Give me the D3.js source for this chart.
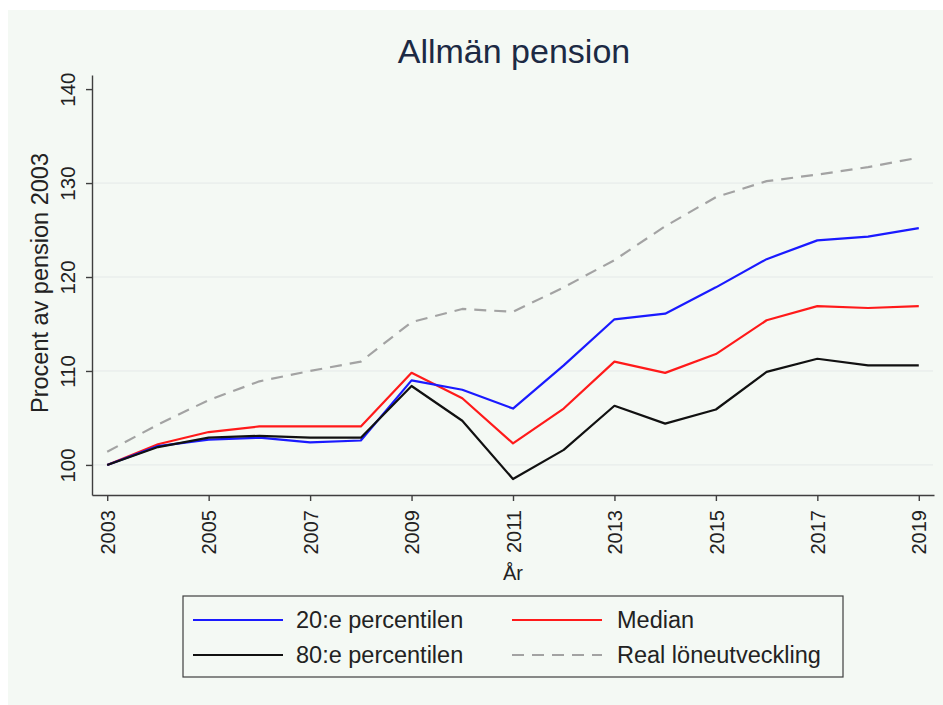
<!DOCTYPE html>
<html>
<head>
<meta charset="utf-8">
<script src="https://cdn.jsdelivr.net/npm/d3@7"></script>
<style>
  body { margin: 0; background: #fff; }
  svg { display: block; font-family: "Liberation Sans", Arial, sans-serif; }
</style>
</head>
<body>
<div class="chart"></div>
<script>
var width = 943,
    height = 705;

// data
var years = [2003, 2004, 2005, 2006, 2007, 2008, 2009, 2010, 2011,
             2012, 2013, 2014, 2015, 2016, 2017, 2018, 2019];
var p20 = [100, 102.0, 102.7, 102.9, 102.4, 102.6, 109.0, 108.0, 106.0,
           110.6, 115.5, 116.1, 118.9, 121.9, 123.9, 124.3, 125.2];
var median = [100, 102.2, 103.5, 104.1, 104.1, 104.1, 109.8, 107.1, 102.3,
              106.0, 111.0, 109.8, 111.8, 115.4, 116.9, 116.7, 116.9];
var p80 = [100, 101.9, 102.9, 103.1, 102.9, 102.9, 108.4, 104.7, 98.5,
           101.6, 106.3, 104.4, 105.9, 109.9, 111.3, 110.6, 110.6];
var wages = [101.4, 104.3, 106.9, 108.9, 110.0, 111.0, 115.2, 116.6, 116.3,
             118.9, 121.8, 125.4, 128.5, 130.2, 130.9, 131.7, 132.7];
var xTicks = [2003, 2005, 2007, 2009, 2011, 2013, 2015, 2017, 2019];
var yTicks = [100, 110, 120, 130, 140];
var gridTicks = [100, 110, 120, 130];

var series = [
    { name: "20:e percentilen", values: p20, color: "#1a1aff", dash: null },
    { name: "Median", values: median, color: "#ff1a1a", dash: null },
    { name: "80:e percentilen", values: p80, color: "#111111", dash: null },
    { name: "Real löneutveckling", values: wages, color: "#a3a3a3", dash: "12,8" }
];

var svg = d3.select(".chart").append("svg")
    .attr("width", width)
    .attr("height", height);

svg.append("rect")
    .attr("x", 8).attr("y", 10)
    .attr("width", width - 8).attr("height", height - 10)
    .attr("fill", "#f4f9f4");

var x = d3.scaleLinear()
    .domain([2002.7, 2019.3])
    .range([92, 934]);

var y = d3.scaleLinear()
    .domain([96.8, 141.5])
    .range([495, 75]);

// grid
svg.append("g").selectAll("line")
    .data(gridTicks)
    .enter().append("line")
    .attr("x1", x.range()[0]).attr("x2", x.range()[1] - 1)
    .attr("y1", function(d) { return y(d); })
    .attr("y2", function(d) { return y(d); })
    .attr("stroke", "#e4e9e8")
    .attr("stroke-width", 1);

// axes
var yAxis = svg.append("g")
    .attr("transform", "translate(" + x.range()[0] + ",0)")
    .call(d3.axisLeft(y).tickValues(yTicks).tickSizeInner(6).tickSizeOuter(0));

yAxis.selectAll("text")
    .attr("transform", "rotate(-90)")
    .attr("x", 0).attr("y", -17).attr("dy", 0)
    .style("text-anchor", "middle")
    .style("font-size", "20.5px")
    .attr("fill", "#222");

var xAxis = svg.append("g")
    .attr("transform", "translate(0," + y.range()[0] + ")")
    .call(d3.axisBottom(x).tickValues(xTicks).tickFormat(d3.format("d")).tickSizeInner(6).tickSizeOuter(0));

xAxis.selectAll("text")
    .attr("transform", "rotate(-90)")
    .attr("x", -15).attr("y", 0).attr("dy", "0.36em")
    .style("text-anchor", "end")
    .style("font-size", "20px")
    .attr("fill", "#222");

svg.selectAll(".domain, .tick line")
    .attr("stroke", "#3f3f3f")
    .attr("stroke-width", 1.4);

// lines
var line = d3.line()
    .x(function(d, i) { return x(years[i]); })
    .y(function(d) { return y(d); });

var drawOrder = [series[3], series[1], series[0], series[2]];
svg.append("g").selectAll("path")
    .data(drawOrder)
    .enter().append("path")
    .attr("d", function(d) { return line(d.values); })
    .attr("fill", "none")
    .attr("stroke", function(d) { return d.color; })
    .attr("stroke-width", 2.2)
    .attr("stroke-dasharray", function(d) { return d.dash; })
    .attr("stroke-linejoin", "round");

// titles
svg.append("text")
    .attr("x", 514).attr("y", 63)
    .style("text-anchor", "middle")
    .style("font-size", "34px")
    .attr("fill", "#1c2a44")
    .text("Allmän pension");

svg.append("text")
    .attr("transform", "translate(48,283) rotate(-90)")
    .style("text-anchor", "middle")
    .style("font-size", "23.5px")
    .attr("fill", "#222")
    .text("Procent av pension 2003");

svg.append("text")
    .attr("x", 513).attr("y", 580)
    .style("text-anchor", "middle")
    .style("font-size", "20px")
    .attr("fill", "#222")
    .text("År");

// legend
var legend = svg.append("g");
legend.append("rect")
    .attr("x", 183).attr("y", 596)
    .attr("width", 660).attr("height", 81)
    .attr("fill", "none")
    .attr("stroke", "#3f3f3f")
    .attr("stroke-width", 1.2);

var legendItems = legend.selectAll(".item")
    .data([series[0], series[1], series[2], series[3]])
    .enter().append("g")
    .attr("class", "item")
    .attr("transform", function(d, i) {
        return "translate(" + (i % 2 === 0 ? 193 : 512) + "," + (i < 2 ? 620 : 655) + ")";
    });

legendItems.append("line")
    .attr("x1", 0).attr("x2", 90)
    .attr("stroke", function(d) { return d.color; })
    .attr("stroke-width", 2.2)
    .attr("stroke-dasharray", function(d) { return d.dash; });

legendItems.append("text")
    .attr("x", function(d, i) { return i % 2 === 0 ? 103 : 105; })
    .attr("dy", "0.36em")
    .style("font-size", "23.5px")
    .attr("fill", "#222")
    .text(function(d) { return d.name; });
</script>
</body>
</html>
